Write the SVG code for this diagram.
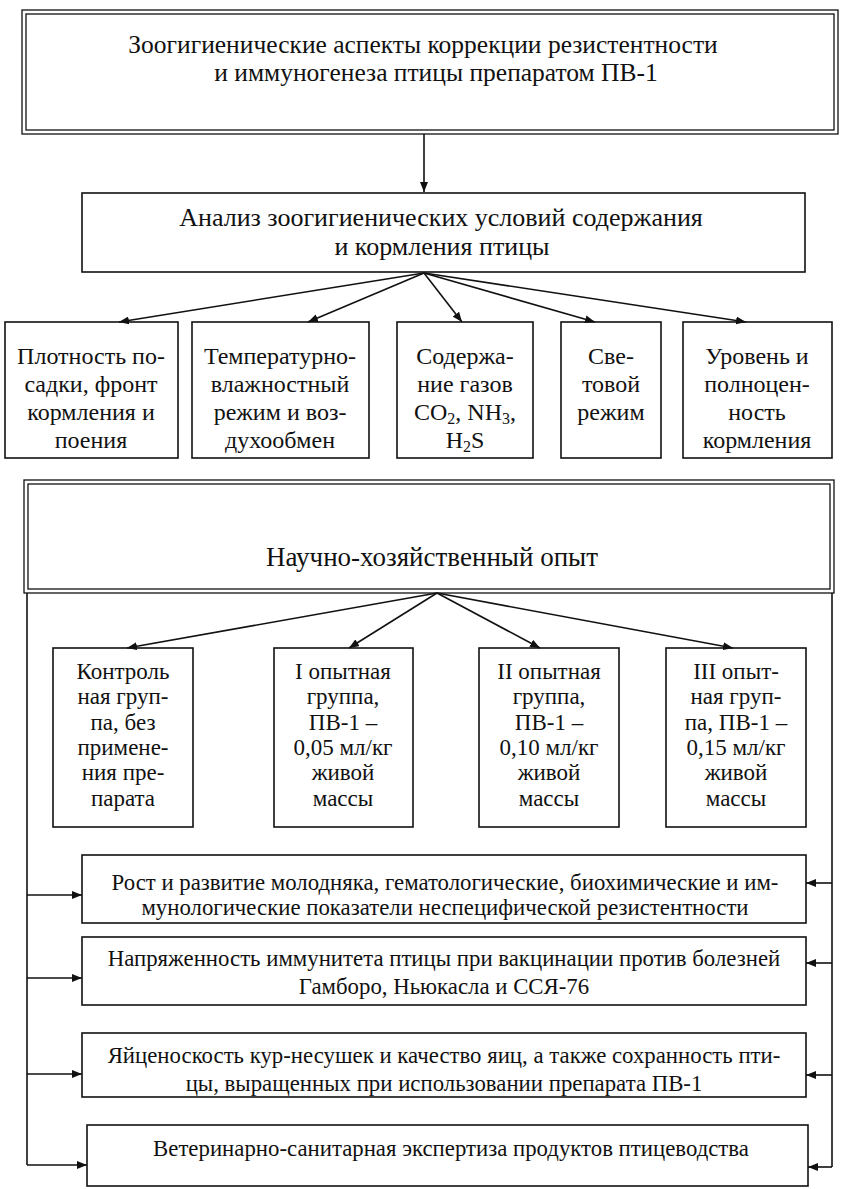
<svg xmlns="http://www.w3.org/2000/svg" width="843" height="1189" viewBox="0 0 843 1189">
<defs>
<style>
.box{fill:none;stroke:#111;stroke-width:1.6}
.dbl{fill:none;stroke:#111;stroke-width:1.3}
.ln{fill:none;stroke:#111;stroke-width:1.6}
.t{font-family:"Liberation Serif","DejaVu Serif","Times New Roman",serif;fill:#111;text-anchor:middle}
.tt{font-size:25.5px}
.ta{font-size:26px}
.th{font-size:27px}
.t5{font-size:24px}
.tg{font-size:23px}
.tb{font-size:22.8px}
</style>
<marker id="ah" viewBox="0 0 10 8" refX="10" refY="4" markerWidth="10" markerHeight="8" markerUnits="userSpaceOnUse" orient="auto">
<path d="M0,0 L10,4 L0,8 Z" fill="#111"/>
</marker>
</defs>
<rect width="843" height="1189" fill="#fff"/>

<g id="title">
<rect class="dbl" x="22" y="10" width="816" height="124"/>
<rect class="dbl" x="26" y="14" width="808" height="116"/>
<text class="t tt" x="423" y="53">Зоогигиенические аспекты коррекции резистентности</text>
<text class="t tt" x="436" y="81">и иммуногенеза птицы препаратом ПВ-1</text>
</g>

<g id="analysis">
<rect class="box" x="82" y="193" width="723" height="79"/>
<text class="t ta" x="441" y="226">Анализ зоогигиенических условий содержания</text>
<text class="t ta" x="442" y="255">и кормления птицы</text>
</g>

<g id="density">
<rect class="box" x="5" y="322" width="173" height="136"/>
<text class="t t5" x="91" y="364">Плотность по-</text>
<text class="t t5" x="91" y="392">садки, фронт</text>
<text class="t t5" x="91" y="420">кормления и</text>
<text class="t t5" x="91" y="448">поения</text>
</g>
<g id="temperature">
<rect class="box" x="192" y="322" width="177" height="136"/>
<text class="t t5" x="280" y="364">Температурно-</text>
<text class="t t5" x="280" y="392">влажностный</text>
<text class="t t5" x="280" y="420">режим и воз-</text>
<text class="t t5" x="280" y="448">духообмен</text>
</g>
<g id="gases">
<rect class="box" x="397" y="322" width="136" height="136"/>
<text class="t t5" x="465" y="364">Содержа-</text>
<text class="t t5" x="465" y="392">ние газов</text>
<text class="t t5" x="465" y="420">CO<tspan font-size="16" dy="4">2</tspan><tspan dy="-4">, NH</tspan><tspan font-size="16" dy="4">3</tspan><tspan dy="-4">,</tspan></text>
<text class="t t5" x="465" y="448">H<tspan font-size="16" dy="4">2</tspan><tspan dy="-4">S</tspan></text>
</g>
<g id="light">
<rect class="box" x="561" y="322" width="100" height="136"/>
<text class="t t5" x="611" y="364">Све-</text>
<text class="t t5" x="611" y="392">товой</text>
<text class="t t5" x="611" y="420">режим</text>
</g>
<g id="feeding">
<rect class="box" x="683" y="322" width="149" height="136"/>
<text class="t t5" x="757" y="364">Уровень и</text>
<text class="t t5" x="757" y="392">полноцен-</text>
<text class="t t5" x="757" y="420">ность</text>
<text class="t t5" x="757" y="448">кормления</text>
</g>

<g id="experiment">
<rect class="dbl" x="24" y="480" width="810" height="113"/>
<rect class="dbl" x="28" y="484" width="802" height="105"/>
<text class="t th" x="432" y="566">Научно-хозяйственный опыт</text>
</g>

<g id="control">
<rect class="box" x="53" y="648" width="140" height="179"/>
<text class="t tg" x="123" y="679">Контроль</text>
<text class="t tg" x="123" y="704">ная груп-</text>
<text class="t tg" x="123" y="730">па, без</text>
<text class="t tg" x="123" y="755">примене-</text>
<text class="t tg" x="123" y="780">ния  пре-</text>
<text class="t tg" x="123" y="806">парата</text>
</g>
<g id="group1">
<rect class="box" x="274" y="648" width="139" height="179"/>
<text class="t tg" x="343" y="679">I опытная</text>
<text class="t tg" x="343" y="704">группа,</text>
<text class="t tg" x="343" y="730">ПВ-1 –</text>
<text class="t tg" x="343" y="755">0,05 мл/кг</text>
<text class="t tg" x="343" y="780">живой</text>
<text class="t tg" x="343" y="806">массы</text>
</g>
<g id="group2">
<rect class="box" x="479" y="648" width="140" height="179"/>
<text class="t tg" x="549" y="679">II опытная</text>
<text class="t tg" x="549" y="704">группа,</text>
<text class="t tg" x="549" y="730">ПВ-1 –</text>
<text class="t tg" x="549" y="755">0,10 мл/кг</text>
<text class="t tg" x="549" y="780">живой</text>
<text class="t tg" x="549" y="806">массы</text>
</g>
<g id="group3">
<rect class="box" x="666" y="648" width="140" height="179"/>
<text class="t tg" x="736" y="679">III опыт-</text>
<text class="t tg" x="736" y="704">ная груп-</text>
<text class="t tg" x="736" y="730">па, ПВ-1 –</text>
<text class="t tg" x="736" y="755">0,15 мл/кг</text>
<text class="t tg" x="736" y="780">живой</text>
<text class="t tg" x="736" y="806">массы</text>
</g>

<g id="growth">
<rect class="box" x="82" y="855" width="724" height="68"/>
<text class="t tb" x="445" y="890">Рост и развитие молодняка, гематологические, биохимические и им-</text>
<text class="t tb" x="445" y="915">мунологические показатели неспецифической резистентности</text>
</g>
<g id="immunity">
<rect class="box" x="82" y="937" width="724" height="68"/>
<text class="t tb" x="444" y="966">Напряженность иммунитета птицы при вакцинации против болезней</text>
<text class="t tb" x="444" y="994">Гамборо, Ньюкасла и ССЯ-76</text>
</g>
<g id="eggs">
<rect class="box" x="82" y="1033" width="724" height="64"/>
<text class="t tb" x="444" y="1063">Яйценоскость кур-несушек и качество яиц, а также сохранность пти-</text>
<text class="t tb" x="444" y="1091">цы, выращенных при использовании препарата ПВ-1</text>
</g>
<g id="expertise">
<rect class="box" x="87" y="1125" width="721" height="61"/>
<text class="t tb" x="451" y="1156">Ветеринарно-санитарная экспертиза продуктов птицеводства</text>
</g>

<g id="connectors" class="ln">
<line x1="424" y1="134" x2="424" y2="192" marker-end="url(#ah)"/>
<line x1="424" y1="273" x2="119" y2="322" marker-end="url(#ah)"/>
<line x1="424" y1="273" x2="308" y2="322" marker-end="url(#ah)"/>
<line x1="424" y1="273" x2="462" y2="322" marker-end="url(#ah)"/>
<line x1="424" y1="273" x2="595" y2="322" marker-end="url(#ah)"/>
<line x1="424" y1="273" x2="746" y2="322" marker-end="url(#ah)"/>
<line x1="437" y1="593" x2="127" y2="648" marker-end="url(#ah)"/>
<line x1="437" y1="593" x2="349" y2="648" marker-end="url(#ah)"/>
<line x1="437" y1="593" x2="540" y2="648" marker-end="url(#ah)"/>
<line x1="437" y1="593" x2="733" y2="648" marker-end="url(#ah)"/>
<polyline points="27,593 27,1165"/>
<polyline points="832,593 832,1167"/>
<line x1="27" y1="895" x2="82" y2="895" marker-end="url(#ah)"/>
<line x1="27" y1="978" x2="82" y2="978" marker-end="url(#ah)"/>
<line x1="27" y1="1074" x2="82" y2="1074" marker-end="url(#ah)"/>
<line x1="27" y1="1165" x2="87" y2="1165" marker-end="url(#ah)"/>
<line x1="832" y1="883" x2="806" y2="883" marker-end="url(#ah)"/>
<line x1="832" y1="963" x2="806" y2="963" marker-end="url(#ah)"/>
<line x1="832" y1="1075" x2="806" y2="1075" marker-end="url(#ah)"/>
<line x1="832" y1="1167" x2="808" y2="1167" marker-end="url(#ah)"/>
</g>
</svg>
